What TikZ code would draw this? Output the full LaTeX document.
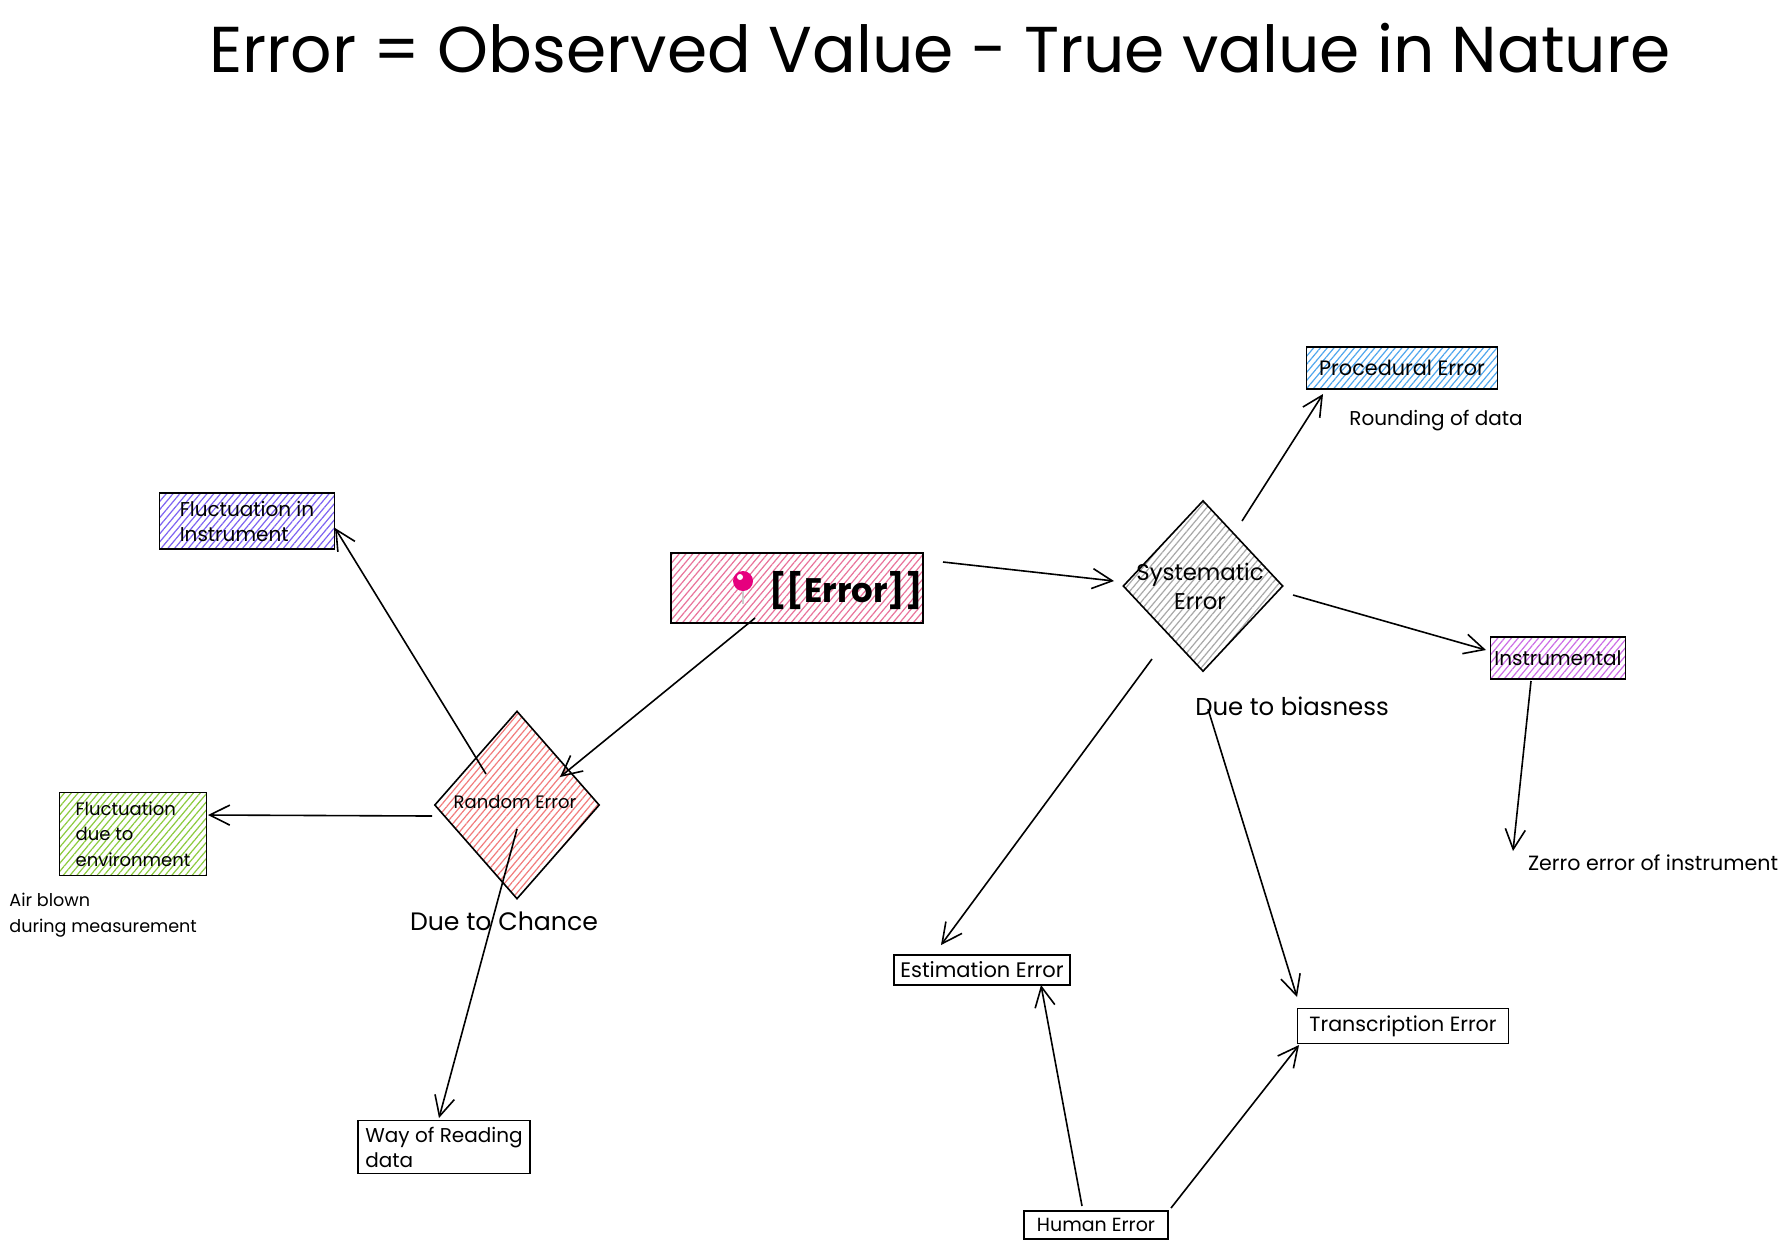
\documentclass[tikz,border=0pt]{standalone}
\usepackage{fontspec}
\setmainfont{Poppins}
\usetikzlibrary{arrows.meta,shapes.geometric,patterns.meta,calc}
\definecolor{cErr}{HTML}{E9739B}
\definecolor{cSys}{HTML}{A8A8A8}
\definecolor{cRand}{HTML}{F27C7C}
\definecolor{cProc}{HTML}{4FA6EE}
\definecolor{cInstr}{HTML}{CC6EE6}
\definecolor{cFlI}{HTML}{7D63F2}
\definecolor{cFlE}{HTML}{8CCB3E}
\definecolor{cPin}{HTML}{E6007E}
\newcommand\lblfont{\fontsize{10}{12.5}\selectfont}
\begin{document}
\begin{tikzpicture}[x=0.5pt,y=-0.5pt,
  box/.style={draw=black, line width=0.8pt, rectangle, inner sep=2pt, font=\lblfont, align=left},
  hatch/.style={pattern={Lines[angle=50,distance=2.6pt,line width=0.6pt]}, pattern color=#1},
  dia/.style={draw=black, line width=0.8pt, diamond, inner sep=0pt},
  arr/.style={line width=0.8pt, -{Straight Barb[length=10pt,width=10pt,line width=0.8pt]}},
  txt/.style={font=\lblfont, inner sep=0pt, align=left}]
\fill[white] (0,0) rectangle (1792,1250);
\useasboundingbox (0,0) rectangle (1792,1250);

% title
\node[inner sep=0pt] (title) at (940,48) {\fontsize{32.4}{38}\selectfont Error = Observed Value - True value in Nature};

% central node
\node[box, hatch=cErr, minimum width=126pt, minimum height=35pt] (err) at (797,588) {};
\node[inner sep=0pt, font=\fontsize{17}{20}\selectfont\bfseries] (errtxt) at (846,591) {[[Error]]};
\draw[gray!40, line width=1pt] (743,589) -- (743,604);
\fill[cPin] (743,581) circle[radius=10];
\fill[white] (740,577) circle[radius=3];

% diamonds
\node[dia, hatch=cSys, minimum width=80pt, minimum height=85.5pt] (sys) at (1203,586) {};
\node[inner sep=0pt, align=center, font=\fontsize{11.4}{14.5}\selectfont] (systxt) at (1200,586) {Systematic\\Error};
\node[dia, hatch=cRand, minimum width=82.5pt, minimum height=94pt] (rand) at (517,805) {};
\node[inner sep=0pt, font=\fontsize{9}{10}\selectfont] (randtxt) at (515,802) {Random Error};

\node[inner sep=0pt, font=\fontsize{12.6}{16}\selectfont] (chance) at (504,921) {Due to Chance};
\node[inner sep=0pt, font=\fontsize{12.2}{16}\selectfont] (bias) at (1292,706) {Due to biasness};

% boxes
\node[box, hatch=cProc, minimum width=95.5pt, minimum height=21pt, font=\fontsize{10.4}{12.5}\selectfont] (proc) at (1402,368) {Procedural Error};
\node[txt] (round) at (1436,421) {Rounding of data};
\node[box, hatch=cInstr, minimum width=66.5pt, minimum height=21pt] (instr) at (1558,658) {Instrumental};
\node[txt, font=\fontsize{10.3}{12.5}\selectfont] (zerro) at (1653,863) {Zerro error of instrument};
\node[box, hatch=cFlI, minimum width=87.5pt, minimum height=28pt] (flinst) at (247,521) {Fluctuation in\\Instrument};
\node[box, hatch=cFlE, minimum width=73.5pt, minimum height=41.5pt, font=\fontsize{9}{12.7}\selectfont] (flenv) at (133,834) {Fluctuation\\due to\\environment};
\node[txt, anchor=west, font=\fontsize{8.8}{13}\selectfont] (air) at (9,915) {Air blown\\during measurement};
\node[box, minimum width=86pt, minimum height=26.5pt] (way) at (444,1147) {Way of Reading\\data};
\node[box, minimum width=88pt, minimum height=15pt, font=\fontsize{10.5}{12.5}\selectfont] (est) at (982,970) {Estimation Error};
\node[box, minimum width=105.5pt, minimum height=17.5pt, font=\fontsize{10.3}{12.5}\selectfont] (trans) at (1403,1026) {Transcription Error};
\node[box, minimum width=72pt, minimum height=14pt, font=\fontsize{9.5}{12}\selectfont] (human) at (1096,1225) {Human Error};

% connectors
\draw[arr] ($(err)+(146,-26)$) -- ($(sys)+(-89,-5)$);
\draw[arr] ($(err)+(-42,30)$) -- ($(rand)+(43,-28)$);
\draw[arr] ($(rand)+(-31,-31)$) -- ($(flinst)+(88,7)$);
\draw[arr] ($(rand)+(-85,11)$) -- ($(flenv)+(75,-19)$);
\draw[arr] ($(rand)+(0,24)$) -- ($(way)+(-5,-29)$);
\draw[arr] ($(sys)+(39,-65)$) -- ($(proc)+(-79,26)$);
\draw[arr] ($(sys)+(90,9)$) -- ($(instr)+(-72,-8)$);
\draw[arr] ($(sys)+(-51,73)$) -- ($(est)+(-41,-25)$);
\draw[arr] ($(sys)+(5,123)$) -- ($(trans)+(-106,-29)$);
\draw[arr] ($(instr)+(-27,23)$) -- ($(zerro)+(-140,-12)$);
\draw[arr] ($(human)+(-14,-19)$) -- ($(est)+(59,15)$);
\draw[arr] ($(human)+(75,-17)$) -- ($(trans)+(-104,19)$);
\end{tikzpicture}
\end{document}
